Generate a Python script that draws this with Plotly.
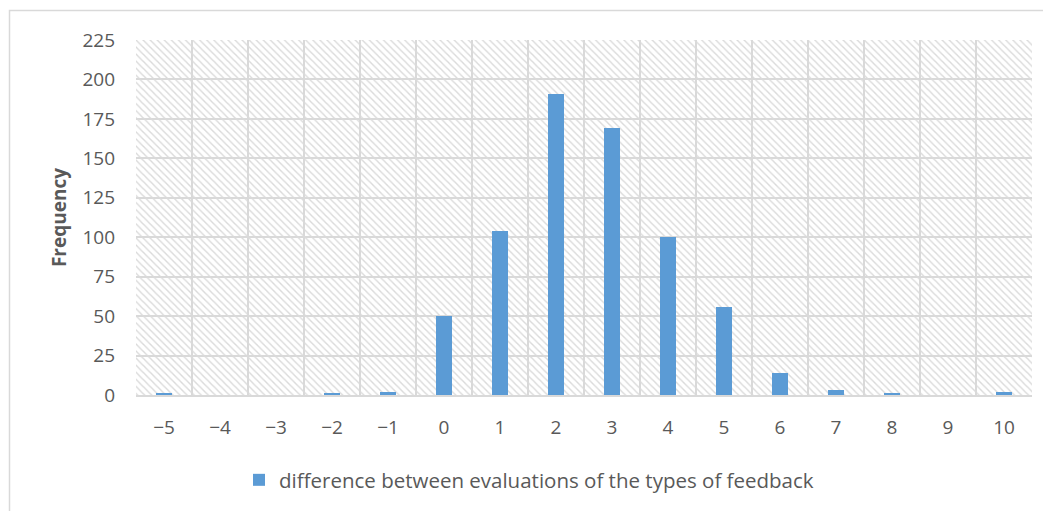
import plotly.graph_objects as go

categories = ["\u22125", "\u22124", "\u22123", "\u22122", "\u22121", "0", "1", "2", "3", "4", "5", "6", "7", "8", "9", "10"]
frequency = [1, 0, 0, 1, 2, 50, 104, 191, 169, 100, 56, 14, 3, 1, 0, 2]
series_name = "difference between evaluations of the types of feedback"
y_ticks = [0, 25, 50, 75, 100, 125, 150, 175, 200, 225]
y_max = 225

# page body has an 8px margin, so the figure is offset by 8px
OFF = 8
W, H = 1051 - OFF, 511 - OFF
# plot area in reference pixel coords
PL, PR, PT, PB = 136, 1032, 40, 396
ML, MT = PL - OFF, PT - OFF
MR, MB = W - (PR - OFF), H - (PB - OFF)
PW, PH = PR - PL, PB - PT

FONT = "'Open Sans', sans-serif"
TXT = "#595959"
GRID = "#d9d9d9"

fig = go.Figure()

# hatched plot-area background (on a hidden base axis)
fig.add_trace(go.Bar(
    x=[0.5], y=[y_max], width=[1], xaxis="x", yaxis="y",
    marker=dict(color="rgba(0,0,0,0)", line=dict(width=0),
                pattern=dict(shape="\\", fgcolor="#dadada", bgcolor="rgba(0,0,0,0)",
                             size=5, solidity=0.28, fillmode="replace")),
    showlegend=False, hoverinfo="skip",
))

fig.add_trace(go.Bar(
    x=categories, y=frequency, name=series_name, xaxis="x2", yaxis="y",
    marker=dict(color="#5B9BD5", line=dict(width=0)), width=0.27,
))

def px2paper_x(px):
    return (px - PL) / PW

def px2paper_y(py):
    return (PB - py) / PH

fig.update_layout(
    width=W, height=H,
    margin=dict(l=ML, r=MR, t=MT, b=MB, pad=0),
    paper_bgcolor="white", plot_bgcolor="white",
    font=dict(family=FONT, size=19, color=TXT),
    bargap=0, barmode="overlay",
    xaxis=dict(range=[0, 1], visible=False, showgrid=False, fixedrange=True),
    xaxis2=dict(overlaying="x", type="category", tickson="boundaries",
                showgrid=True, gridcolor=GRID, gridwidth=1.5,
                showline=True, linecolor=GRID, linewidth=1.5,
                ticks="", ticklabelstandoff=14,
                tickfont=dict(family=FONT, size=19, color=TXT),
                categoryorder="array", categoryarray=categories, side="bottom"),
    yaxis=dict(range=[0, y_max], tickvals=y_ticks, showgrid=True, gridcolor=GRID, gridwidth=1.5,
               zeroline=False, showline=False,
               ticks="", ticklabelstandoff=20,
               tickfont=dict(family=FONT, size=19, color=TXT),
               title=dict(text="<b>Frequency</b>", standoff=10,
                          font=dict(family=FONT, size=19, color=TXT))),
    showlegend=True,
    legend=dict(orientation="h", x=px2paper_x(239), xanchor="left",
                y=px2paper_y(480), yanchor="middle",
                font=dict(family=FONT, size=20.5, color=TXT),
                itemwidth=30, bgcolor="rgba(0,0,0,0)"),
    shapes=[dict(type="rect", xref="paper", yref="paper",
                 x0=px2paper_x(9.5), x1=px2paper_x(1051 + 20),
                 y0=px2paper_y(511 + 20), y1=px2paper_y(10.5),
                 line=dict(color=GRID, width=1.5), fillcolor="rgba(0,0,0,0)", layer="below")],
)

fig.write_html("out.html")
